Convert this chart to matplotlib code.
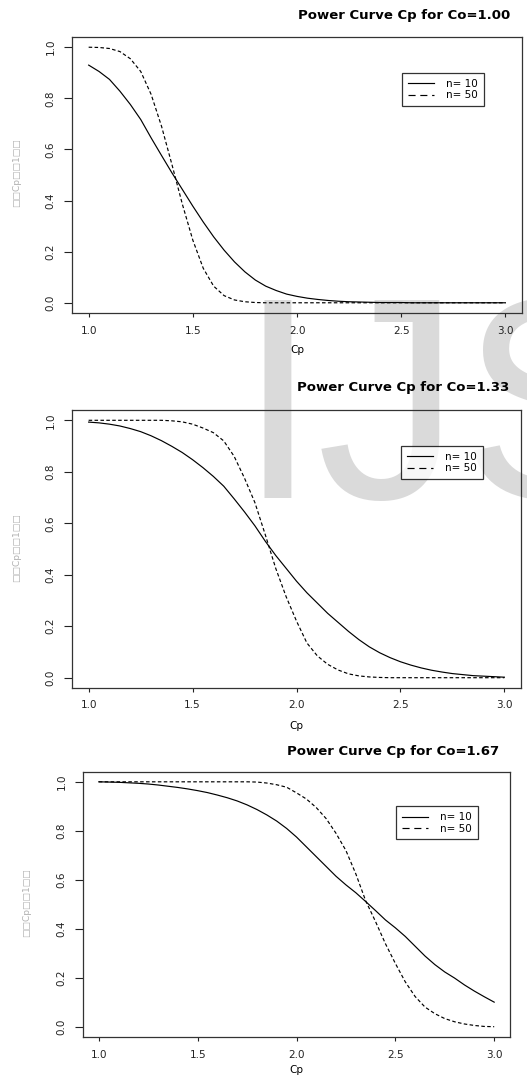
import matplotlib
matplotlib.use("Agg")
import matplotlib.pyplot as plt

# Cp grid (step 0.05)
cp = [1.00, 1.05, 1.10, 1.15, 1.20, 1.25, 1.30, 1.35, 1.40, 1.45,
      1.50, 1.55, 1.60, 1.65, 1.70, 1.75, 1.80, 1.85, 1.90, 1.95,
      2.00, 2.05, 2.10, 2.15, 2.20, 2.25, 2.30, 2.35, 2.40, 2.45,
      2.50, 2.55, 2.60, 2.65, 2.70, 2.75, 2.80, 2.85, 2.90, 2.95, 3.00]

# Co = 1.00
co100_n10 = [0.930, 0.905, 0.874, 0.828, 0.776, 0.717, 0.645, 0.576, 0.508, 0.443,
             0.378, 0.316, 0.258, 0.206, 0.160, 0.121, 0.089, 0.065, 0.048, 0.034,
             0.025, 0.018, 0.013, 0.009, 0.006, 0.004, 0.003, 0.002, 0.001, 0.001,
             0.001, 0.0, 0.0, 0.0, 0.0, 0.0, 0.0, 0.0, 0.0, 0.0, 0.0]
co100_n50 = [1.000, 0.999, 0.995, 0.983, 0.955, 0.905, 0.815, 0.690, 0.540, 0.385,
             0.245, 0.135, 0.065, 0.028, 0.011, 0.004, 0.001, 0.0, 0.0, 0.0,
             0.0, 0.0, 0.0, 0.0, 0.0, 0.0, 0.0, 0.0, 0.0, 0.0,
             0.0, 0.0, 0.0, 0.0, 0.0, 0.0, 0.0, 0.0, 0.0, 0.0, 0.0]

# Co = 1.33
co133_n10 = [0.993, 0.990, 0.985, 0.978, 0.968, 0.956, 0.940, 0.921, 0.899, 0.875,
             0.847, 0.816, 0.782, 0.744, 0.695, 0.644, 0.590, 0.530, 0.475, 0.425,
             0.375, 0.330, 0.290, 0.250, 0.215, 0.180, 0.148, 0.120, 0.097, 0.078,
             0.062, 0.049, 0.038, 0.029, 0.022, 0.016, 0.012, 0.008, 0.006, 0.004, 0.002]
co133_n50 = [1.000, 1.000, 1.000, 1.000, 1.000, 1.000, 1.000, 1.000, 0.998, 0.994,
             0.985, 0.970, 0.952, 0.920, 0.860, 0.775, 0.680, 0.555, 0.425, 0.315,
             0.220, 0.135, 0.085, 0.052, 0.030, 0.015, 0.007, 0.003, 0.001, 0.0,
             0.0, 0.0, 0.0, 0.0, 0.0, 0.0, 0.0, 0.0, 0.0, 0.0, 0.0]

# Co = 1.67
co167_n10 = [1.000, 0.999, 0.998, 0.996, 0.994, 0.991, 0.987, 0.982, 0.977, 0.971,
             0.964, 0.956, 0.946, 0.935, 0.922, 0.906, 0.887, 0.865, 0.840, 0.810,
             0.775, 0.735, 0.695, 0.655, 0.615, 0.580, 0.548, 0.512, 0.475, 0.437,
             0.405, 0.370, 0.330, 0.290, 0.255, 0.225, 0.200, 0.172, 0.147, 0.124, 0.102]
co167_n50 = [1.000, 1.000, 1.000, 1.000, 1.000, 1.000, 1.000, 1.000, 1.000, 1.000,
             1.000, 1.000, 1.000, 1.000, 1.000, 1.000, 0.999, 0.995, 0.988, 0.978,
             0.955, 0.930, 0.895, 0.850, 0.790, 0.720, 0.625, 0.515, 0.430, 0.340,
             0.260, 0.185, 0.125, 0.082, 0.055, 0.035, 0.022, 0.013, 0.007, 0.003, 0.002]

titles = ["Power Curve Cp for Co=1.00", "Power Curve Cp for Co=1.33", "Power Curve Cp for Co=1.67"]
labels = ["n= 10", "n= 50"]
xticks = [1.0, 1.5, 2.0, 2.5, 3.0]
yticks = [0.0, 0.2, 0.4, 0.6, 0.8, 1.0]
ylab = "\u25a1\u25a1Cp\u25a1\u25a11\u25a1\u25a1"

W, H = 527, 1076
fig = plt.figure(figsize=(W / 100, H / 100), dpi=100)
plt.rcParams['font.family'] = ['DejaVu Sans']

# journal watermark behind everything
fig.text(238 / W, 1 - 498 / H, "IJSER", fontsize=207, family="Liberation Sans",
         color="#dadada", ha="left", va="baseline", zorder=-5)

# pixel boxes: left, top, right, bottom ; title right / y ; ylabel x / y ; xlabel y
panels = [
    ((72, 37, 522, 313), (510, 16), (17, 173), 350, co100_n10, co100_n50),
    ((72, 410, 521, 688), (509, 388), (17, 548), 726, co133_n10, co133_n50),
    ((83, 772, 510, 1037), (499, 752), (27, 903), 1070, co167_n10, co167_n50),
]

for i, (box, tpos, ypos, xlab_y, s10, s50) in enumerate(panels):
    l, t, r, b = box
    ax = fig.add_axes([l / W, 1 - b / H, (r - l) / W, (b - t) / H])
    ax.set_facecolor("none")
    ax.plot(cp, s10, color="black", lw=0.85, label=labels[0])
    ax.plot(cp, s50, color="black", lw=0.85, ls=(0, (3, 2)), label=labels[1])
    ax.set_xlim(0.92, 3.08)
    ax.set_ylim(-0.04, 1.04)
    ax.set_xticks(xticks)
    ax.set_xticklabels(["%.1f" % v for v in xticks])
    ax.set_yticks(yticks)
    ax.set_yticklabels(["%.1f" % v for v in yticks], rotation=90, va="center")
    ax.tick_params(axis="x", length=3, width=0.8, pad=6, labelsize=7.5, colors="#222222")
    ax.tick_params(axis="y", length=6, width=0.8, pad=6, labelsize=7.5, colors="#222222")
    for sp in ax.spines.values():
        sp.set_linewidth(0.9)
        sp.set_color("#333333")
    leg = ax.legend(loc="upper left", bbox_to_anchor=(0.733, 0.87), borderaxespad=0,
                    fontsize=7.5, frameon=True, fancybox=False, edgecolor="black",
                    handlelength=2.5, handletextpad=1.2, borderpad=0.55,
                    labelspacing=0.15)
    leg.get_frame().set_linewidth(0.9)
    leg.get_lines()[1].set_linestyle((0, (6, 4)))
    fig.text((l + r) / 2 / W, 1 - xlab_y / H, "Cp", fontsize=7.5, ha="center", va="center")
    fig.text(tpos[0] / W, 1 - tpos[1] / H, titles[i], fontsize=9.5, fontweight="bold",
             ha="right", va="center")
    fig.text(ypos[0] / W, 1 - ypos[1] / H, ylab, fontsize=6.5, color="#b0b0b0",
             rotation=90, ha="center", va="center")

fig.savefig("out.png", dpi=100)
